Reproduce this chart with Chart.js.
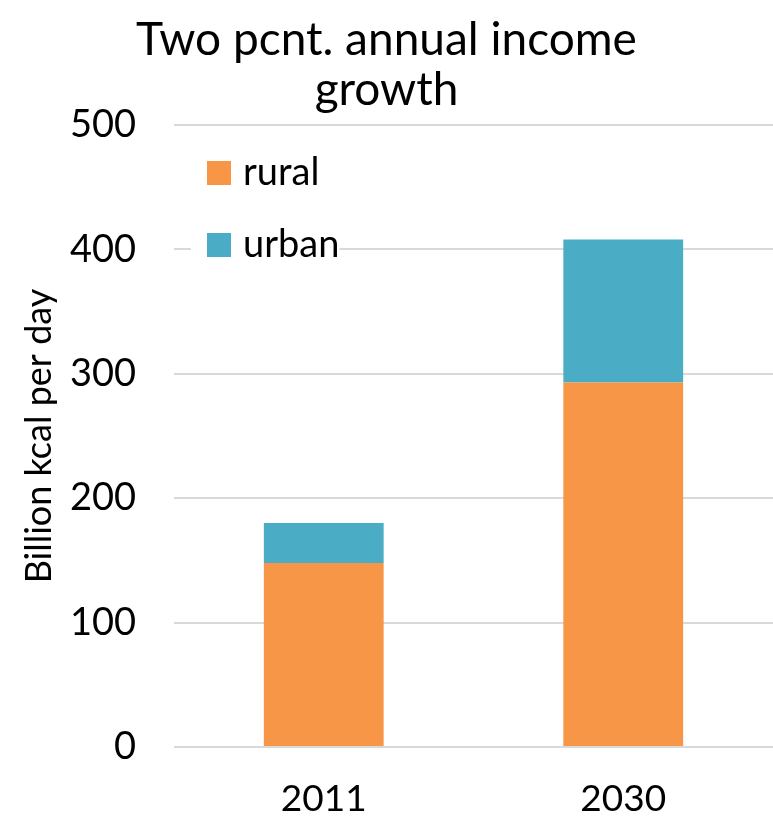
<!DOCTYPE html>
<html>
<head>
<meta charset="utf-8">
<script src="https://cdn.jsdelivr.net/npm/chart.js@4/dist/chart.umd.min.js"></script>
<style>
  body { margin: 0; background: #fff; }
  #wrap { width: 773px; height: 817px; }
</style>
</head>
<body>
<div id="wrap"><canvas id="grafico"></canvas></div>
<script>
// Dados
const anos = ['2011', '2030'];
const rural = [148, 293];
const urbano = [32, 115];
const marcasY = [0, 100, 200, 300, 400, 500];

const fonte = 'Lato, "Open Sans", sans-serif';

// legenda desenhada dentro da área do gráfico, com fundo branco
const legendaInterna = {
    id: 'legendaInterna',
    afterDraw(chart) {
        const ctx = chart.ctx;
        const area = chart.chartArea;
        const x = area.left + 33;
        let y = area.top + 36;
        ctx.save();
        ctx.font = '38px ' + fonte;
        ctx.textBaseline = 'middle';
        chart.data.datasets.forEach(ds => {
            const w = ctx.measureText(ds.label).width;
            ctx.fillStyle = '#fff';
            ctx.fillRect(x - 16, y - 6, 24 + 12 + w + 16, 36);
            ctx.fillStyle = ds.backgroundColor;
            ctx.fillRect(x, y, 24, 24);
            ctx.fillStyle = '#000';
            ctx.fillText(ds.label, x + 36, y + 12);
            y += 72;
        });
        ctx.restore();
    }
};

const ctx = document.getElementById('grafico').getContext('2d');
new Chart(ctx, {
    type: 'bar',
    data: {
        labels: anos,
        datasets: [
            {
                label: 'rural',
                data: rural,
                backgroundColor: '#f79646'
            },
            {
                label: 'urban',
                data: urbano,
                backgroundColor: '#4bacc6'
            }
        ]
    },
    options: {
        responsive: true,
        maintainAspectRatio: false,
        animation: false,
        datasets: {
            bar: {
                categoryPercentage: 1,
                barPercentage: 0.4
            }
        },
        layout: {
            padding: { left: 0, right: 0, top: 0, bottom: 0 }
        },
        plugins: {
            legend: { display: false },
            tooltip: { enabled: false },
            title: {
                display: true,
                text: ['Two pcnt. annual income', 'growth'],
                color: '#000',
                font: { family: fonte, size: 46, weight: 'normal', lineHeight: 1.087 },
                padding: { top: 15, bottom: 10 }
            }
        },
        scales: {
            x: {
                stacked: true,
                grid: { display: false },
                border: { display: false },
                ticks: {
                    color: '#000',
                    padding: 22,
                    font: { family: fonte, size: 37 }
                },
                afterFit(scale) { scale.height = 70; }
            },
            y: {
                stacked: true,
                min: 0,
                max: 500,
                afterBuildTicks(scale) {
                    scale.ticks = marcasY.map(v => ({ value: v }));
                },
                grid: {
                    color: '#d9d9d9',
                    lineWidth: 2,
                    drawTicks: false
                },
                border: { display: false },
                ticks: {
                    color: '#000',
                    padding: 38,
                    font: { family: fonte, size: 38 }
                },
                title: {
                    display: true,
                    text: 'Billion kcal per day',
                    color: '#000',
                    font: { family: fonte, size: 36 },
                    padding: { top: 18, bottom: 0 }
                },
                afterFit(scale) { scale.width = 174; }
            }
        }
    },
    plugins: [legendaInterna]
});
</script>
</body>
</html>
